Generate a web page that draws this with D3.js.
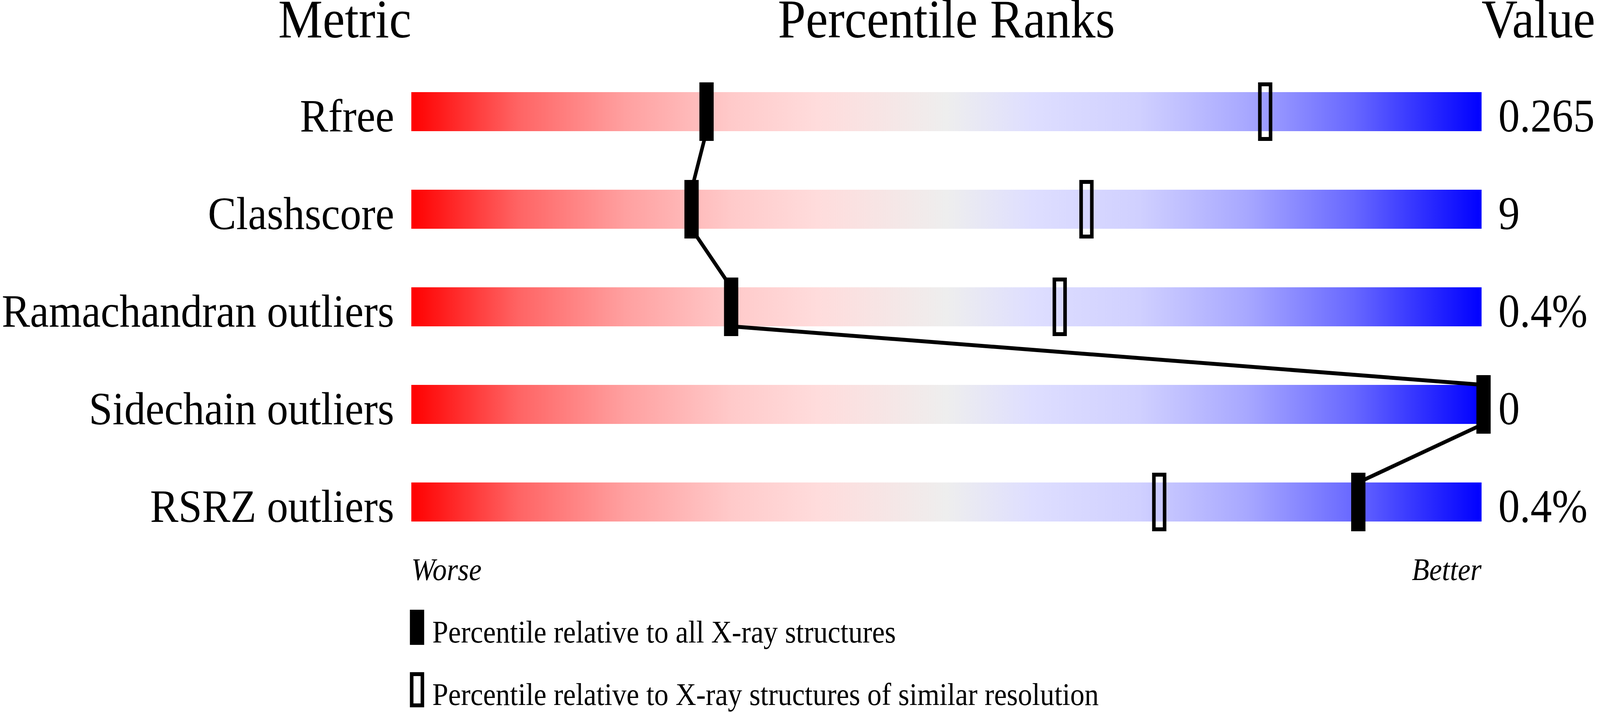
<!DOCTYPE html>
<html>
<head>
<meta charset="utf-8">
<script src="https://cdn.jsdelivr.net/npm/d3@7"></script>
<style>
  html, body { margin: 0; padding: 0; background: #fff; overflow: hidden; }
  #slider { display: block; width: 100vw; height: 100vh; }
  text { font-family: "Liberation Serif", "Times New Roman", serif; fill: #000; }
</style>
</head>
<body>
<svg id="slider" viewBox="0 0 4485 1824" preserveAspectRatio="none"></svg>
<script>
const metrics = ["Rfree", "Clashscore", "Ramachandran outliers", "Sidechain outliers", "RSRZ outliers"];
const values = ["0.265", "9", "0.4%", "0", "0.4%"];
// percentile vs all X-ray structures (filled) and vs similar resolution (open)
const pctAll = [27.4, 26.0, 29.7, 100, 88.3];
const pctSimilar = [79.6, 62.9, 60.4, null, 69.7];
const legendLabels = [
  "Percentile relative to all X-ray structures",
  "Percentile relative to X-ray structures of similar resolution"
];

const gradStops = [
  [0, "#ff0000"], [0.1, "#ff6464"], [0.2, "#ffa0a0"], [0.3, "#ffcaca"],
  [0.38, "#ffdcdc"], [0.5, "#eeeeee"], [0.58, "#dedeff"], [0.68, "#d0d0ff"],
  [0.78, "#a8a8ff"], [0.88, "#6868ff"], [0.96, "#2222ff"], [1, "#0000ff"]
];

const svg = d3.select("#slider");
const barLeft = 1153, barRight = 4153, barH = 100;

const x = d3.scaleLinear().domain([0, 100]).range([barLeft, barRight]);
const y = d3.scaleBand().domain(metrics).range([236, 1486]).paddingInner(0);
// marker centre sits a few px right of the scale point
const mx = p => x(p) + 5.5;

const grad = svg.append("defs").append("linearGradient")
  .attr("id", "rankGrad").attr("x1", "0%").attr("x2", "100%");
grad.selectAll("stop").data(gradStops).enter().append("stop")
  .attr("offset", d => d[0]).attr("stop-color", d => d[1]);

// headers
svg.append("text").attr("x", barLeft).attr("y", 96).attr("text-anchor", "end")
  .style("font-size", "140px").text("Metric");
svg.append("text").attr("x", (barLeft + barRight) / 2).attr("y", 96).attr("text-anchor", "middle")
  .style("font-size", "140px").text("Percentile Ranks");
svg.append("text").attr("x", barRight).attr("y", 96)
  .style("font-size", "140px").text("Value");

// bars
svg.selectAll("rect.bar").data(metrics).enter().append("rect")
  .attr("class", "bar")
  .attr("x", barLeft).attr("y", d => y(d))
  .attr("width", barRight - barLeft).attr("height", barH)
  .attr("fill", "url(#rankGrad)");

svg.selectAll("text.metric").data(metrics).enter().append("text")
  .attr("class", "metric")
  .attr("x", 1105).attr("y", d => y(d) + barH + 1)
  .attr("text-anchor", "end").style("font-size", "119px")
  .text(d => d);

svg.selectAll("text.value").data(values).enter().append("text")
  .attr("class", "value")
  .attr("x", 4200).attr("y", (d, i) => y(metrics[i]) + barH + 1)
  .style("font-size", "120px")
  .text(d => d);

// connecting lines between filled markers
const links = d3.pairs(metrics.map((m, i) => ({ m, p: pctAll[i] })));
svg.selectAll("line.link").data(links).enter().append("line")
  .attr("class", "link")
  .attr("x1", d => mx(d[0].p)).attr("y1", d => y(d[0].m) + barH)
  .attr("x2", d => mx(d[1].p)).attr("y2", d => y(d[1].m))
  .attr("stroke", "#000").attr("stroke-width", 10);

// open markers
svg.selectAll("rect.similar").data(metrics.filter((m, i) => pctSimilar[i] != null)).enter().append("rect")
  .attr("class", "similar")
  .attr("x", d => mx(pctSimilar[metrics.indexOf(d)]) - 15)
  .attr("y", d => y(d) - 20)
  .attr("width", 30).attr("height", 140)
  .attr("fill", "none").attr("stroke", "#000").attr("stroke-width", 10);

// filled markers
svg.selectAll("rect.all").data(metrics).enter().append("rect")
  .attr("class", "all")
  .attr("x", (d, i) => mx(pctAll[i]) - 20)
  .attr("y", d => y(d) - 25)
  .attr("width", 40).attr("height", 150)
  .attr("fill", "#000");

// worse / better
svg.append("text").attr("x", barLeft).attr("y", 1486)
  .style("font-size", "80px").style("font-style", "italic").text("Worse");
svg.append("text").attr("x", barRight).attr("y", 1486).attr("text-anchor", "end")
  .style("font-size", "80px").style("font-style", "italic").text("Better");

// legend
const legY = [1562, 1722];
svg.append("rect").attr("x", 1149).attr("y", legY[0]).attr("width", 40).attr("height", 90).attr("fill", "#000");
svg.append("rect").attr("x", 1154).attr("y", legY[1] + 5).attr("width", 30).attr("height", 80)
  .attr("fill", "none").attr("stroke", "#000").attr("stroke-width", 10);
svg.selectAll("text.legend").data(legendLabels).enter().append("text")
  .attr("class", "legend")
  .attr("x", 1212).attr("y", (d, i) => legY[i] + 84)
  .style("font-size", "80px")
  .text(d => d);
</script>
</body>
</html>
